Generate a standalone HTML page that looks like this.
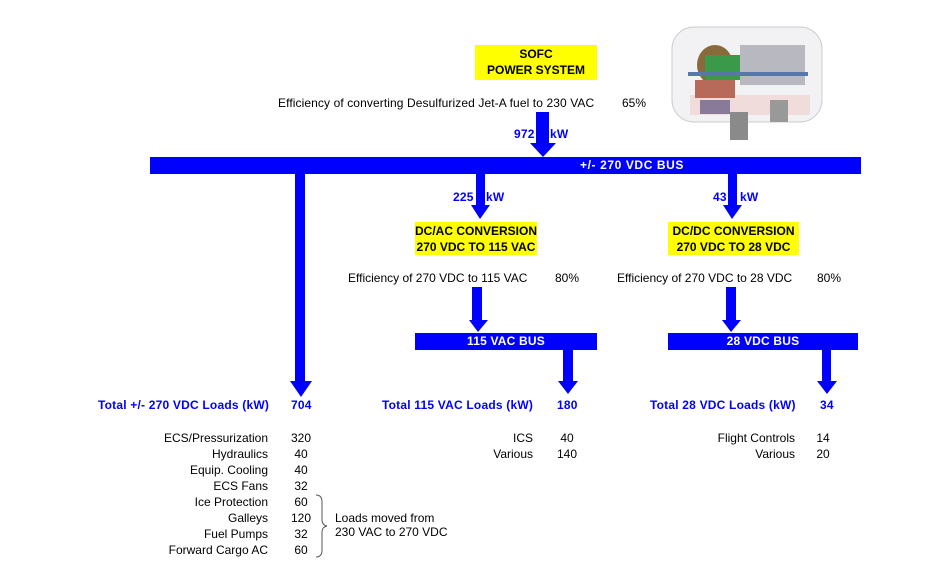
<!DOCTYPE html>
<html><head><style>
body{margin:0;width:926px;height:569px;background:#fff;position:relative;overflow:hidden;font-family:"Liberation Sans",Arial,sans-serif;font-size:12px;color:#000}
.a{position:absolute;white-space:nowrap;line-height:14px}
.b{font-weight:bold}
.bl{color:#0000ff;font-weight:bold;letter-spacing:0.2px}
.r{text-align:right}
.c{text-align:center}
.bus{position:absolute;background:#0000ff;color:#fff;font-weight:bold;line-height:17px;text-align:center;letter-spacing:0.2px}
.y{position:absolute;background:#ffff00;font-weight:bold;text-align:center;line-height:16px;white-space:nowrap}
</style></head><body>
<svg width="926" height="569" style="position:absolute;left:0;top:0">
<g fill="#0000ff">
<polygon points="536,112 549,112 549,143 556,143 543,157 530,143 536,143"/>
<polygon points="295,174 305,174 305,381 312,381 301,397 290,381 295,381"/>
<polygon points="476,174 485,174 485,205 490,205 480,219 471,205 476,205"/>
<polygon points="728,174 737,174 737,205 742,205 732,219 723,205 728,205"/>
<polygon points="472,287 482,287 482,320 488,320 478,332 469,320 472,320"/>
<polygon points="726,287 736,287 736,320 741,320 731,332 722,320 726,320"/>
<polygon points="563,350 573,350 573,381 578,381 568,394 558,381 563,381"/>
<polygon points="822,350 831,350 831,381 837,381 827,394 817,381 822,381"/>
</g>
<path d="M316,495 Q322,495 322,502 L322,520 Q322,525 327,526 Q322,527 322,532 L322,550 Q322,557 316,557" fill="none" stroke="#555" stroke-width="1"/>
<g>
<rect x="672" y="27" width="150" height="95" rx="22" fill="#f2f2f4" stroke="#ccc"/>
<rect x="690" y="95" width="120" height="20" fill="#f1dcdc"/>
<ellipse cx="715" cy="65" rx="18" ry="20" fill="#8a6a3a"/>
<rect x="740" y="45" width="65" height="40" fill="#b8b8c0"/>
<rect x="705" y="55" width="35" height="25" fill="#3a9a4a"/>
<rect x="695" y="80" width="40" height="18" fill="#b86a5a"/>
<rect x="700" y="100" width="30" height="14" fill="#8a7a9a"/>
<rect x="688" y="72" width="120" height="4" fill="#5577aa"/>
<rect x="730" y="112" width="18" height="28" fill="#8a8a8a"/>
<rect x="770" y="100" width="18" height="22" fill="#999"/>
</g>
</svg>
<div class="y" style="left:475px;top:45px;width:122px;height:34px;padding-top:1px;font-size:12px">SOFC<br>POWER SYSTEM</div>
<div class="a" style="left:278px;top:96px;letter-spacing:0.1px">Efficiency of converting Desulfurized Jet-A fuel to 230 VAC</div>
<div class="a" style="left:622px;top:96px">65%</div>
<div class="a bl" style="left:514px;top:127px">972</div>
<div class="a bl" style="left:550px;top:127px">kW</div>
<div class="bus" style="left:150px;top:157px;width:711px;height:17px"><span style="position:absolute;left:430px;letter-spacing:0.6px">+/- 270 VDC BUS</span></div>
<div class="a bl" style="left:453px;top:190px">225</div>
<div class="a bl" style="left:486px;top:190px">kW</div>
<div class="a bl" style="left:713px;top:190px">43</div>
<div class="a bl" style="left:740px;top:190px">kW</div>
<div class="y" style="left:415px;top:222px;width:122px;height:32px;padding-top:1px">DC/AC CONVERSION<br>270 VDC TO 115 VAC</div>
<div class="y" style="left:668px;top:222px;width:131px;height:32px;padding-top:1px">DC/DC CONVERSION<br>270 VDC TO 28 VDC</div>
<div class="a" style="left:348px;top:271px">Efficiency of 270 VDC to 115 VAC</div>
<div class="a" style="left:555px;top:271px">80%</div>
<div class="a" style="left:617px;top:271px">Efficiency of 270 VDC to 28 VDC</div>
<div class="a" style="left:817px;top:271px">80%</div>
<div class="bus" style="left:415px;top:333px;width:182px;height:17px">115 VAC BUS</div>
<div class="bus" style="left:668px;top:333px;width:190px;height:17px">28 VDC BUS</div>
<div class="a bl" style="left:98px;top:398px">Total +/- 270 VDC Loads (kW)</div>
<div class="a bl" style="left:291px;top:398px">704</div>
<div class="a bl" style="left:382px;top:398px">Total 115 VAC Loads (kW)</div>
<div class="a bl" style="left:557px;top:398px">180</div>
<div class="a bl" style="left:650px;top:398px">Total 28 VDC Loads (kW)</div>
<div class="a bl" style="left:820px;top:398px">34</div>
<div class="a r" style="right:658px;top:430px;line-height:16px">ECS/Pressurization<br>Hydraulics<br>Equip. Cooling<br>ECS Fans<br>Ice Protection<br>Galleys<br>Fuel Pumps<br>Forward Cargo AC</div>
<div class="a c" style="left:286px;width:30px;top:430px;line-height:16px">320<br>40<br>40<br>32<br>60<br>120<br>32<br>60</div>
<div class="a" style="left:335px;top:511px;line-height:14px">Loads moved from<br>230 VAC to 270 VDC</div>
<div class="a r" style="right:393px;top:430px;line-height:16px">ICS<br>Various</div>
<div class="a c" style="left:552px;width:30px;top:430px;line-height:16px">40<br>140</div>
<div class="a r" style="right:131px;top:430px;line-height:16px">Flight Controls<br>Various</div>
<div class="a c" style="left:813px;width:20px;top:430px;line-height:16px">14<br>20</div>
</body></html>
